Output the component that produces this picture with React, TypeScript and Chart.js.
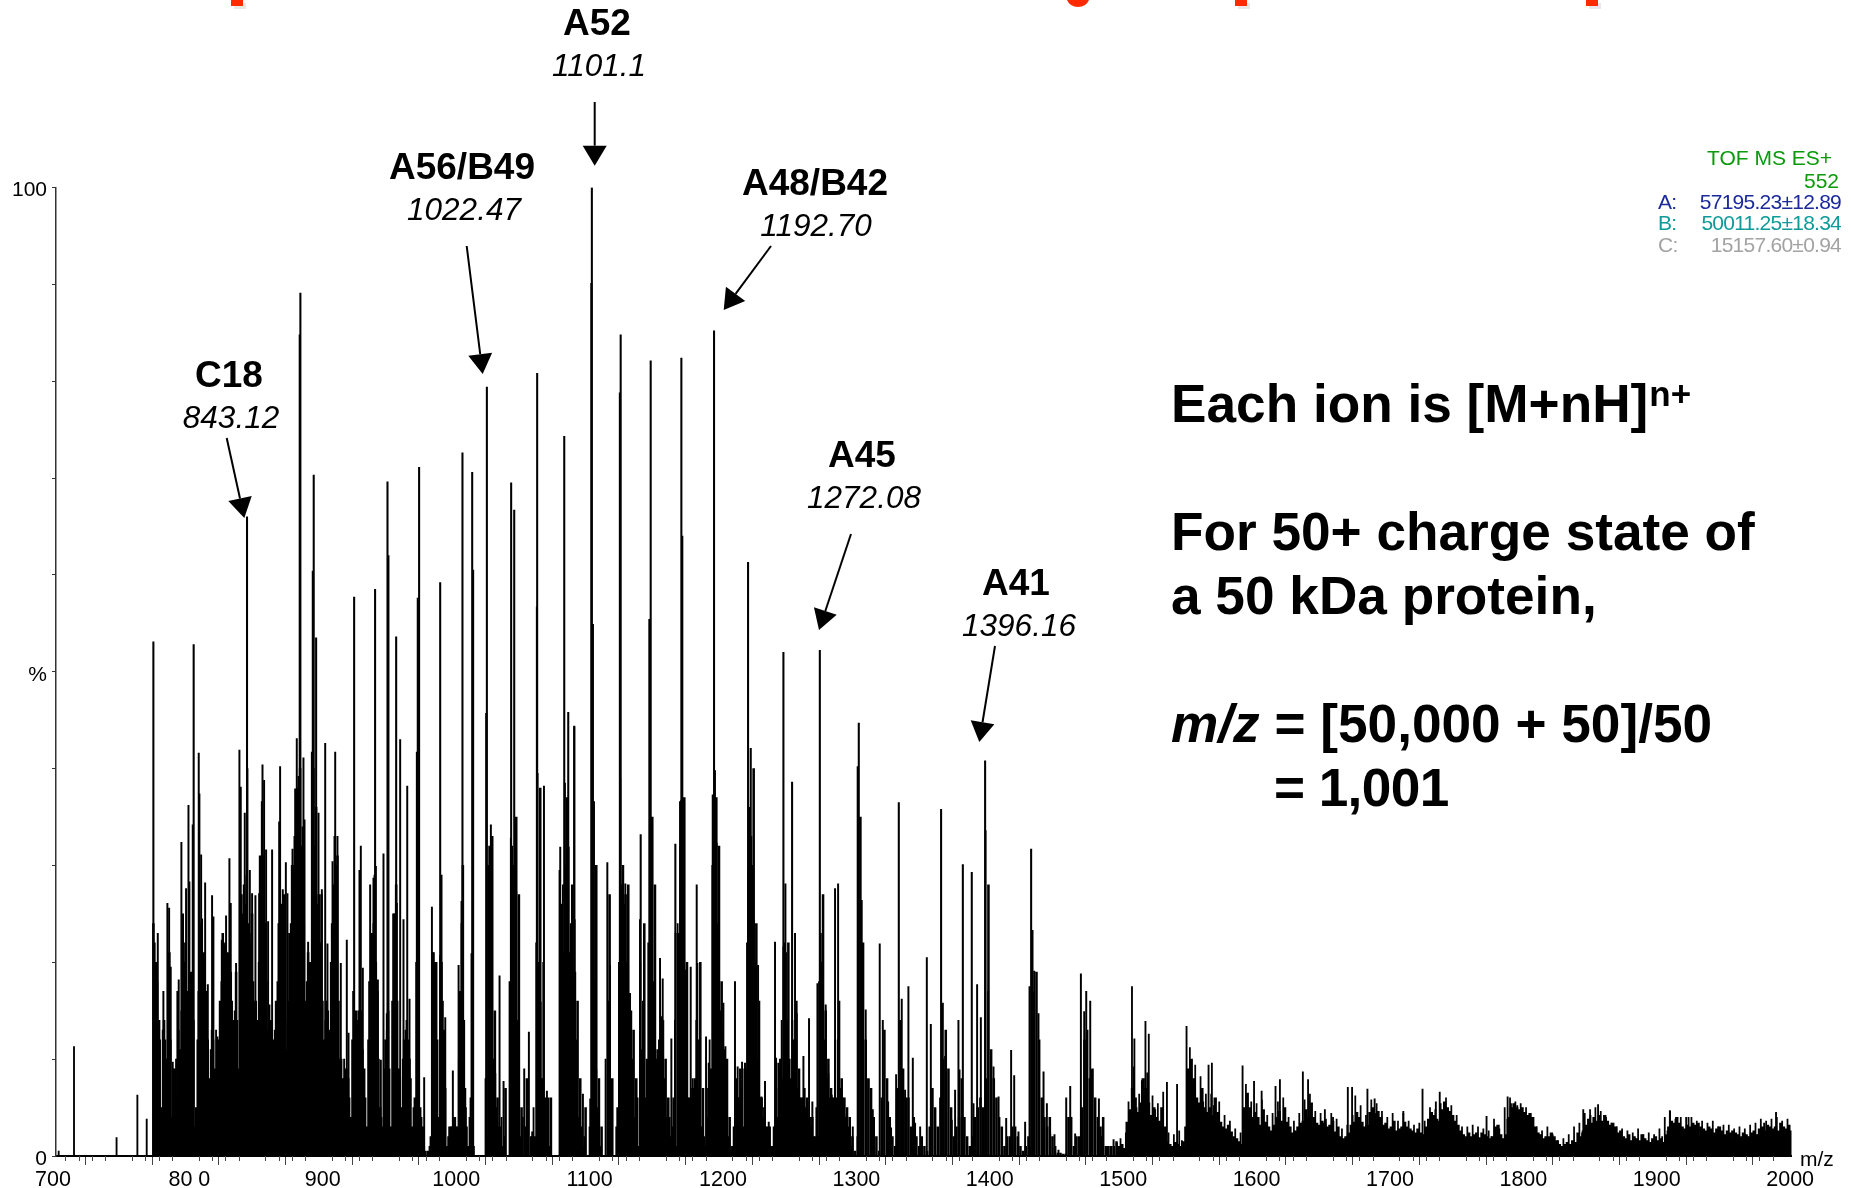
import { useEffect, useRef } from "react";
import { Chart, registerables } from "chart.js";

Chart.register(...registerables);

const xTickLabels: Record<number, string> = {
  700: "700 ", 800: "80 0", 900: "900", 1000: "1000", 1100: "1100", 1200: "1200", 1300: "1300",
  1400: "1400", 1500: "1500", 1600: "1600", 1700: "1700", 1800: "1800", 1900: "1900", 2000: "2000",
};
const yTickLabels: Record<number, string> = { 0: "0", 50: "%", 100: "100" };

// tallest charge-state peaks
const mainMz = [776, 806.2, 846.2, 886.2, 885.7, 896.2, 898, 895.5, 926.5, 942.2, 951.5, 952.2, 958, 975.2, 974.2, 991, 1007.7, 1015, 1015.7, 1026, 1025.5, 1044.2, 1046.5, 1063.7, 1063.5, 1084, 1087, 1091.5, 1104.7, 1104.3, 1105.5, 1126.3, 1125.7, 1148.8, 1147.8, 1171.8, 1172.5, 1196.3, 1221.8, 1248.3, 1275.6, 1304.8, 1304, 1399.5, 1399.8, 1334.8, 1366.5, 1382.8, 1389.5, 1434, 1435, 1223.8, 1254.8, 1141.3, 1167.3];
const mainI = [53.1, 52.8, 66, 89.1, 84.8, 70.3, 53.5, 60.4, 57.7, 58.5, 69.6, 62, 53.6, 71.1, 57.6, 59.2, 72.6, 70.6, 60.5, 79.4, 45.7, 69.5, 66.7, 80.8, 56.7, 74.3, 45.8, 44.4, 100, 90.1, 54.9, 84.8, 78.8, 82.1, 55.4, 82.4, 64, 85.2, 61.3, 52, 52.2, 44.7, 40.2, 40.8, 33.6, 36.5, 35.8, 30.1, 29.3, 31.7, 23.3, 42.1, 38.6, 33.2, 32.2];

// isolated peaks below the start of the envelope
const earlyMz = [705, 716.5, 748.4, 764, 771];
const earlyI = [0.5, 11.3, 1.9, 6.3, 3.8];

// thin spikes, 775-1130
const leftMz = [779.3, 778, 780.5, 783.5, 786.5, 787.8, 789, 790.5, 795, 794, 797, 800.5, 802.3, 803, 805.5, 810, 810.5, 811.8, 812.5, 814.8, 816.8, 820, 821, 824, 827.3, 829.3, 830.5, 833, 834, 838, 840.5, 841.5, 844.5, 846.5, 848.3, 850, 852.5, 855.3, 857.8, 857.3, 859, 860.5, 862, 865, 863, 871, 870.3, 873, 875.3, 876.5, 880.3, 882.3, 883.5, 884.8, 888.5, 889.3, 892, 894.8, 899.8, 902.3, 904.8, 906.5, 910.3, 912.3, 914, 916.5, 921, 922.3, 930.5, 931.5, 933, 938.5, 941, 942.8, 944.3, 946.5, 948.5, 951, 956.5, 958.5, 961, 963.5, 966.3, 968, 973.5, 979, 984.8, 985.5, 987, 991, 992, 994.8, 1000.5, 1004.8, 1007, 1009.8, 1014.5, 1029, 1028, 1032.3, 1035.5, 1038.5, 1044, 1044.8, 1048, 1054, 1057.5, 1060, 1064, 1066.3, 1068.8, 1068.3, 1071, 1081, 1080.5, 1084.5, 1087.3, 1091.5, 1091.8, 1093.5, 1098, 1103.5, 1106.3, 1108, 1109.8, 1116.3, 1118.3, 1119, 1126, 1128, 1132.5];
const leftI = [23, 19.9, 14, 17, 26.1, 25.6, 19.5, 9.7, 18.2, 17, 32.4, 27.6, 36.2, 28.3, 34.2, 41.6, 37.4, 31.1, 24.5, 28.2, 17.7, 26.9, 24.7, 12.3, 22.3, 21.8, 24.8, 30.7, 26.1, 19.9, 41.9, 38.1, 35.4, 40, 29.5, 27.1, 26.9, 27.1, 40.4, 36.6, 38.8, 31.6, 24.2, 31.6, 15.6, 40.2, 34.5, 27.5, 30.3, 27.1, 31.7, 37.9, 43.1, 39.2, 41.1, 34.7, 22.1, 41.7, 35.4, 27.5, 42.6, 21.9, 30.4, 41.7, 33, 19.9, 22.3, 12.7, 29.5, 32, 19.4, 28, 28.7, 29.9, 18.2, 9.9, 31.2, 14.7, 25, 26.1, 43, 24.4, 38.2, 16.2, 41.7, 8.1, 25.7, 21, 19.7, 20.7, 29, 14.3, 8.8, 19.7, 26.3, 7, 20.9, 34.2, 16.1, 8.5, 18.6, 7.7, 32.8, 29.9, 27.3, 9, 12.8, 2.5, 39.5, 15.9, 38.2, 20, 6.7, 31.9, 29.5, 38.5, 31.9, 44.3, 24.4, 8.4, 6.4, 5.9, 36.6, 8.9, 3.5, 30.3, 19.7, 3.2, 39, 27.5, 13.4];

// thin spikes, 1125-1500
const midMz = [1127.8, 1129.8, 1133.3, 1132.3, 1140.8, 1143.3, 1148.8, 1149.8, 1150.8, 1155.8, 1157.8, 1156.8, 1155.3, 1164.3, 1167.5, 1170.8, 1171.5, 1172.8, 1175, 1178.8, 1180.3, 1183.3, 1183.8, 1185.8, 1190.3, 1192.3, 1195.3, 1197, 1198.3, 1199.8, 1203.3, 1202.8, 1204.8, 1212, 1214, 1217.3, 1219.5, 1222, 1222.8, 1226.3, 1229.3, 1231.8, 1234.5, 1237.3, 1242, 1242.8, 1244.5, 1248.3, 1249.8, 1252.3, 1257, 1258.3, 1263.3, 1267.5, 1270, 1273.8, 1276.3, 1280, 1282, 1284.5, 1287, 1289.3, 1292.8, 1295.8, 1300.3, 1307, 1310, 1312, 1315.3, 1320.5, 1322.8, 1326.8, 1329, 1332.8, 1337, 1339.5, 1342, 1345.3, 1347, 1350.8, 1355.8, 1358.8, 1362, 1367.8, 1369.5, 1374.5, 1379.5, 1380.3, 1377, 1390.8, 1393.5, 1396.3, 1401.8, 1405.8, 1409.6, 1415.3, 1419, 1421.3, 1424.5, 1429.5, 1432.8, 1436.3, 1439.5, 1443.3, 1445.8, 1448.3, 1451.5, 1454.5, 1460.3, 1463.3, 1467, 1471.3, 1473.8, 1475.3, 1478.3, 1479.5, 1484.8, 1487, 1491.3, 1495.8, 1498.3];
const midI = [27.6, 28.1, 16.8, 15.8, 24.4, 12.7, 34.9, 28.5, 12, 20.4, 18.3, 14.4, 8.2, 12.1, 23, 36.6, 36.7, 28.1, 19.2, 19.5, 8, 28, 19.9, 7.5, 12.3, 9.6, 37.3, 39.8, 32.3, 18.3, 15.8, 12.8, 11.3, 18, 9.2, 9.7, 9.6, 29.5, 22.6, 24.3, 19.7, 6.1, 7.7, 3.5, 22.1, 10.1, 9.6, 21.6, 28.1, 9, 23, 14.7, 10.3, 14.2, 5.6, 17.8, 23, 15.6, 8.5, 6.3, 27.6, 28.1, 6, 4.4, 3, 26.4, 15.1, 7.9, 4.8, 21.9, 14, 5.6, 2.9, 8.4, 16.2, 6.8, 17.5, 10.1, 3.4, 3, 20.5, 13.6, 4.8, 15.8, 10.3, 3.7, 14, 8.9, 6.8, 5.4, 17.7, 14.3, 17, 9.2, 6.1, 3.9, 10.9, 8.3, 2.5, 3.5, 17.5, 19.1, 14.7, 8.7, 5.4, 2.3, 2.2, 0.6, 6, 7.2, 2.3, 18.8, 14.9, 17, 16, 8.9, 5.9, 2, 1, 1.7, 1.3];

// thin spikes above the tail, 1500-2000
const tailSpikeMz = [1509.6, 1511.4, 1519.7, 1522.2, 1535.8, 1543.4, 1550.5, 1553.8, 1567, 1569.5, 1592.5, 1601.1, 1606.8, 1617.2, 1620.5, 1637.7, 1641.6, 1654.2, 1660.3, 1671.4, 1674.6, 1686.1, 1691.5, 1713, 1727.4, 1740.3, 1737.4, 1775.4, 1791.2, 1793.7, 1798.4, 1847.9, 1859, 1853.3, 1912.8, 1926.8, 1992.4, 1983.5];
const tailSpikeI = [17.5, 12.1, 13.9, 12.6, 7.6, 7.4, 13.4, 9.9, 9.4, 9.6, 9.3, 7.7, 6.7, 7.2, 7.9, 8.7, 7.9, 4.8, 4, 7.1, 7.1, 6.9, 5.9, 4.6, 6.9, 6.6, 5.6, 4.1, 6.1, 5.4, 5.2, 4.8, 5.3, 4.2, 4.7, 4, 4.5, 3.4];

// dense envelope, one reading every 2 m/z from 776
const envelopeStart = 776;
const envelopeI = [24, 20, 14, 5, 14, 10, 21, 4, 9, 6, 11, 25, 22, 17, 19, 14, 5, 17, 24, 21, 17, 8, 13, 9, 8, 16, 23, 22, 21, 19, 14, 19, 9, 27, 28, 29, 23, 25, 16, 14, 31, 31, 24, 13, 14, 12, 16, 24, 26, 27, 11, 23, 30, 33, 38, 40, 34, 16, 21, 20, 40, 36, 27, 27, 12, 16, 13, 24, 33, 31, 10, 8, 9, 8, 4, 17, 15, 15, 15, 9, 3, 18, 23, 29, 17, 5, 3, 12, 15, 3, 25, 28, 9, 5, 12, 14, 10, 3, 6, 36, 5, 3, 0.5, 0.5, 2, 21, 20, 4, 20, 13, 1, 3, 3, 4, 3, 17, 30, 5, 1, 6, 1, 0, 0, 0, 0, 2, 32, 33, 15, 6, 3, 1, 7, 0, 0, 30, 35, 27, 5, 0, 8, 0, 2, 2, 7, 38, 8, 6, 6, 6, 0, 0, 0, 26, 21, 37, 21, 28, 19, 16, 8, 1, 5, 0, 0, 5, 30, 8, 3, 0, 0, 27, 8, 0, 5, 28,
  30, 27, 28, 15, 13, 8, 1, 11, 24, 10, 3, 35, 28, 11, 8, 14, 10, 6, 2, 6, 1, 23, 25, 37, 20, 6, 6, 8, 7, 20, 7, 1, 4, 9, 16, 37, 32, 18, 11, 10, 4, 1, 0, 6, 9, 3, 9, 9, 33, 40, 24, 16, 6, 5, 3, 3, 1, 2, 4, 10, 8, 21, 22, 8, 12, 16, 9, 6, 7, 6, 4, 4, 2, 2, 8, 27, 15, 10, 7, 6, 6, 16, 8, 6, 5, 4, 2, 0.5, 2, 35, 22, 12, 8, 7, 4, 2, 0.5, 6, 13, 8, 4, 2, 1, 7, 14, 9, 6, 6, 3, 4, 2, 1, 2, 1, 0.5, 3, 7, 5, 3, 6, 10, 13, 9, 5, 2, 3, 4, 8, 4, 2, 1, 2, 4, 5, 6, 5, 8, 28, 11, 8, 6, 4, 3, 1, 2, 2, 3, 3, 2, 1, 0.5, 1, 2, 1, 17, 19, 12, 6, 4, 3, 4, 2, 1, 0.3, 0.3, 0.2, 0.2, 4, 4, 1, 2, 2, 5, 12, 13, 8, 9, 6, 4, 3, 4, 1, 1, 1, 1, 1.5, 1];

// the readings between those of the envelope, one every 2 m/z from 777
const innerStart = 777;
const innerI = [22, 18, 12, 13, 12, 16, 12, 9, 10, 13, 15, 20,
  12, 10, 4, 3, 12, 18, 20, 14, 12, 11, 12, 13, 12, 18, 17, 16, 14, 16, 15, 14, 18, 25, 26, 24, 22, 18, 16, 20, 24,
  22, 18, 13, 14, 13, 18, 22, 22, 14, 16, 24, 30, 32, 36, 32, 24, 18, 20, 34, 32, 26,
  22, 16, 14, 15, 20, 28, 30, 16, 10, 10, 9, 6, 12, 14, 14, 14, 11, 6, 12, 20, 24, 20, 10, 4, 9, 13, 9, 16, 24, 16, 8, 10, 13, 12, 8, 5, 20, 14, 4, 1, 0, 1, 12, 20, 12, 14, 16, 7, 2, 3,
  4, 3, 10, 24, 14, 3, 4, 3, 0, 0, 0, 0, 8, 30, 22, 10, 5, 3, 4, 2, 0, 18, 32, 30, 14, 2, 4, 3, 1, 2, 5, 22, 20, 8, 6, 5, 1, 0, 0, 0, 22, 28, 30, 24, 24, 18, 12, 4, 3, 2, 0, 3, 22, 18, 5, 1, 0, 10, 16, 3, 0, 3, 20,
  28, 26, 20, 14, 10, 4, 6, 20, 16, 6, 22, 32, 18, 10, 12, 12, 8, 4, 4, 3, 14, 24, 32, 28, 12, 6, 7, 7, 14, 12, 3, 2, 7, 12, 30, 36, 24, 15, 10, 7, 2, 0.5, 3, 8, 6, 7, 9, 22, 36, 30, 20, 10, 6, 4, 3, 2, 1, 3, 7, 9, 14, 22, 14, 10, 14, 12, 7, 6, 6, 5, 4, 3, 2, 5, 18, 20, 12, 8, 6, 6, 12, 12, 7, 5, 4, 3, 1];

// baseline mass of the tail, one reading every 2 m/z from 1500
const tailStart = 1500;
const tailI = [1, 1.2, 0.8, 3.5, 4.8, 7, 6, 4.5, 5.5, 8, 7, 5.5, 4.2, 5, 4, 3.6, 5, 3, 1.5, 1.2, 1, 1.4, 1.2, 1, 1.5, 3, 9, 10, 8, 6, 5.5, 7, 5, 4.5, 5, 4.2, 6, 4.5, 3.5, 3, 2.8, 3.2, 2.5, 2, 1.8, 1.5, 1.2, 5, 6.5, 5, 4, 4.5, 4, 3.2, 4.8, 3.5, 3, 2.6, 3.2, 4, 4.6, 3.6, 5, 3.5, 3, 2.4, 2.6, 3, 3.4, 3.6, 4.8, 4, 5.5, 4, 3.4, 3.2, 3.6, 3.4, 3, 3.2, 3.6, 2.5, 3, 2, 1.8, 2, 2.4, 3.2, 3.5, 4.5, 4, 3.5, 3, 3.2, 4.5, 5, 4.4, 4.6, 4, 3.2, 3.4, 2.8, 3, 3.6, 2.6, 2.8, 3, 3.5, 3, 2.8, 2.6, 2.4, 2.8, 2.4, 2.2, 3, 3.8, 4.5, 4.2, 3.8, 3.6, 4.8, 5.6, 5, 4.6, 4.2, 3.6, 3.2, 2.6, 2.2, 2, 2.4, 2, 2.2, 2.4, 1.9, 2.4, 2.2, 2, 1.8, 2, 3, 3.2, 2.2, 1.8, 2.2, 4, 5, 5.4, 5, 4.8, 5, 4.5, 4.2, 4.4, 4, 3, 2.4, 2.2, 1.8, 2, 2, 2.4, 2, 1.6, 1.2, 1, 1.2, 1.4, 1.2, 1.6, 1.4, 2.4, 2, 2.6, 3.2, 3.8, 3.4, 4, 3.6, 4.2, 3.6, 4.2, 3.6, 3.2, 3.4, 3, 2.4, 2.6, 2, 1.8, 2.2, 1.6, 2, 1.8, 1.6, 2.2, 1.8, 1.6, 1.4, 1.8, 2, 1.6, 1.8, 1.4, 2.2, 3, 3.6, 3.4, 4, 3.4, 3, 2.8, 3.2, 3, 3.4, 3.2, 3.4, 3, 2.8, 2.6, 3, 2.8, 2.4, 2.8, 3, 2.6, 2.2, 2.6, 2.4, 2.6, 2.4, 2.2, 2, 2.4, 2.2, 2, 2.4, 2.6, 2.2, 2.8, 3, 2.6, 3.2, 3, 2.8, 3, 2.6, 3.4, 3, 2.8, 3.2, 2.6, 3, 2.8];

// jagged top of the tail, one thin reading every 2 m/z from 1501
const fringeStart = 1501;
const fringeI = [1.8, 0.6, 2.4, 5.6, 3.8, 9.2, 5, 6.4, 7.8, 6.2, 8.6, 3.4, 6.2, 4.8, 5.4, 3, 6.6, 1.6, 2.4, 0.8, 2.2, 0.7, 2.6, 1.6, 0.9, 6, 11.2, 7.4, 9.4, 4.4, 8.2, 5.6, 6.4, 3.6, 6.4, 5.2, 3.6, 5.6, 2.4, 4.2, 2, 3.6, 1.4, 2.8, 0.9, 2.4, 3.8, 7.4, 3.8, 5.6, 3.2, 5.4, 2.4, 5.8, 2.6, 4.2, 1.8, 4.4, 3, 5.6, 2.8, 6, 2.6, 4, 1.6, 3.6, 2.2, 4.4, 2.8, 5.8, 3.2, 6.4, 3, 4.6, 2.4, 4.4, 2.6, 3.8, 2.4, 4.4, 1.8, 3.8, 1.2, 2.8, 1.2, 3.2, 1.8, 4.2, 6.2, 3.4, 5.2, 2.4, 4.2, 2.6, 5.8, 3.6, 5.4, 3.2, 4.6, 2.4, 4, 2.2, 4.4, 1.8, 3.6, 2.4, 4.4, 2.2, 3.6, 1.8, 3.2, 2, 3.4, 1.6, 3.6, 2.2, 5, 3.4, 4.8, 3, 5.4, 4.4, 6, 3.8, 5.2, 3, 4.2, 2, 3, 1.4, 3, 1.6, 3.2, 1.6, 3, 1.6, 2.8, 1.4, 2.6, 2, 3.8, 1.6, 2.8, 1.8, 5, 3.8, 6, 4.2, 5.6, 3.8, 5.4, 3.4, 5, 3, 3.8, 1.8, 3, 1.4, 2.6, 1.4, 3, 1.4, 2.2, 0.8, 1.6, 0.9, 1.8, 0.8, 2.2, 1, 3, 1.4, 3.4, 2.4, 4.4, 2.8, 4.8, 2.8, 5, 2.8, 4.6, 2.8, 4, 2.4, 3.4, 1.8, 3, 1.4, 2.8, 1.2, 2.6, 1.4, 2.4, 1.2, 2.8, 1.2, 2.2, 1, 2.4, 1.4, 2.2, 1.2, 2.8, 2, 4, 2.6, 4.6, 2.6, 3.8, 2.2, 4, 2.4, 4, 2.6, 4, 2.4, 3.6, 2, 3.6, 2.2, 3.4, 2, 3.6, 2, 3, 1.8, 3.2, 1.8, 3.2, 1.8, 2.8, 1.6, 3, 1.6, 2.8, 2, 3.2, 1.8, 3.4, 2.2, 3.8, 2.4, 3.6, 2.2, 3.8, 2.2, 4, 2.4, 3.6, 2.4, 3.8];

const peakNames = ["A52", "A56/B49", "A48/B42", "C18", "A45", "A41"];
const peakMasses = ["1101.1", "1022.47", "1192.70", "843.12", "1272.08", "1396.16"];

const legendTitle = ["TOF MS ES+", "552"];
const componentNames = ["A:", "B:", "C:"];
const componentMasses = ["57195.23±12.89", "50011.25±18.34", "15157.60±0.94"];

const explainLines = ["For 50+ charge state of", "a 50 kDa protein,"];

const zip = (xs: number[], ys: number[]) => xs.map((x, i) => ({ x, y: ys[i] }));
const stepped = (start: number, ys: number[]) => ys.map((y, i) => ({ x: start + i * 2, y }));

const FONT = '"Liberation Sans", Arial, sans-serif';

const annotationLayout = [
  { cx: 597, by: 35, mx: 599, my: 76, from: [594.7, 102], to: [594.7, 165.7] },
  { cx: 462, by: 179, mx: 464, my: 220, from: [466.7, 246], to: [482.7, 374] },
  { cx: 815, by: 195, mx: 816, my: 236, from: [771, 246], to: [723.7, 310] },
  { cx: 229, by: 387, mx: 231, my: 428, from: [226.7, 438], to: [244.3, 518] },
  { cx: 862, by: 467, mx: 864, my: 508, from: [851, 534], to: [819, 630] },
  { cx: 1016, by: 595, mx: 1019, my: 636, from: [995, 646], to: [979.3, 742] },
];

const overlay = {
  id: "overlay",
  afterDraw(chart: any) {
    const ctx: CanvasRenderingContext2D = chart.ctx;
    const x = chart.scales.x;
    const base = chart.scales.y.getPixelForValue(0);
    ctx.save();

    // minor x ticks
    ctx.strokeStyle = "#444";
    ctx.lineWidth = 1;
    for (let v = 700; v <= 2000; v += 10) {
      if (v % 50 === 0) continue;
      const px = Math.round(x.getPixelForValue(v)) + 0.5;
      ctx.beginPath();
      ctx.moveTo(px, base);
      ctx.lineTo(px, base + 5);
      ctx.stroke();
    }

    // remains of the cropped slide title
    ctx.fillStyle = "#e8e8e8";
    [[234, 3, 12, 6], [1238, 3, 12, 6], [1589, 3, 12, 6]].forEach(([a, b, c, d]) => ctx.fillRect(a, b, c, d));
    ctx.fillStyle = "#ff2a00";
    [[231, 0, 12, 6], [1235, 0, 12, 6], [1586, 0, 12, 6]].forEach(([a, b, c, d]) => ctx.fillRect(a, b, c, d));
    ctx.beginPath();
    ctx.moveTo(1067, 0);
    ctx.quadraticCurveTo(1070, 7, 1078, 7);
    ctx.quadraticCurveTo(1086, 7, 1089, 0);
    ctx.closePath();
    ctx.fill();

    // peak labels and arrows
    ctx.textAlign = "center";
    ctx.textBaseline = "alphabetic";
    ctx.fillStyle = "#000";
    annotationLayout.forEach((a, i) => {
      ctx.font = `bold 37px ${FONT}`;
      ctx.fillText(peakNames[i], a.cx, a.by);
      ctx.font = `italic 31.5px ${FONT}`;
      ctx.fillText(peakMasses[i], a.mx, a.my);
      const [x0, y0] = a.from;
      const [x1, y1] = a.to;
      const ang = Math.atan2(y1 - y0, x1 - x0);
      const len = 20;
      const half = 12;
      const bx = x1 - Math.cos(ang) * len;
      const by = y1 - Math.sin(ang) * len;
      ctx.strokeStyle = "#000";
      ctx.lineWidth = 2;
      ctx.beginPath();
      ctx.moveTo(x0, y0);
      ctx.lineTo(bx, by);
      ctx.stroke();
      ctx.beginPath();
      ctx.moveTo(x1, y1);
      ctx.lineTo(bx - Math.sin(ang) * half, by + Math.cos(ang) * half);
      ctx.lineTo(bx + Math.sin(ang) * half, by - Math.cos(ang) * half);
      ctx.closePath();
      ctx.fill();
    });

    // m/z axis title
    ctx.textAlign = "left";
    ctx.font = `21px ${FONT}`;
    ctx.fillText("m/z", 1800, 1166);

    // instrument legend
    ctx.textAlign = "right";
    ctx.font = `21px ${FONT}`;
    ctx.fillStyle = "#0a9a0a";
    ctx.fillText(legendTitle[0], 1832, 165);
    ctx.fillText(legendTitle[1], 1839, 188);
    const legendColors = ["#1a2a9c", "#0f9a9a", "#a3a3a3"];
    const legendBase = [209, 230, 252];
    (ctx as any).letterSpacing = "-0.75px";
    componentNames.forEach((n, i) => {
      ctx.fillStyle = legendColors[i];
      ctx.textAlign = "left";
      ctx.fillText(n, 1658, legendBase[i]);
      ctx.textAlign = "right";
      ctx.fillText(componentMasses[i], 1841, legendBase[i]);
    });
    (ctx as any).letterSpacing = "0px";

    // explanation text
    ctx.fillStyle = "#000";
    ctx.textAlign = "left";
    ctx.font = `bold 53.2px ${FONT}`;
    ctx.fillText("Each ion is [M+nH]", 1171, 422);
    const w = ctx.measureText("Each ion is [M+nH]").width;
    ctx.font = `bold 35px ${FONT}`;
    ctx.fillText("n+", 1171 + w + 1, 406);
    ctx.font = `bold 53.2px ${FONT}`;
    ctx.fillText(explainLines[0], 1171, 550);
    ctx.fillText(explainLines[1], 1171, 614);
    ctx.font = `italic bold 53.2px ${FONT}`;
    ctx.fillText("m/z", 1171, 742);
    const mw = ctx.measureText("m/z").width;
    ctx.font = `bold 53.2px ${FONT}`;
    ctx.fillText(" = [50,000 + 50]/50", 1171 + mw, 742);
    (ctx as any).letterSpacing = "-0.6px";
    ctx.fillText("= 1,001", 1274, 806);
    (ctx as any).letterSpacing = "0px";
    ctx.restore();
  },
};

const stick = (data: { x: number; y: number }[], thickness: number) => ({
  data,
  backgroundColor: "#000",
  borderWidth: 0,
  barThickness: thickness,
  grouped: false,
});

export default function App() {
  const ref = useRef<HTMLCanvasElement>(null);
  useEffect(() => {
    document.body.style.margin = "0";
    const chart = new Chart(ref.current!, {
      type: "bar",
      data: {
        datasets: [
          stick(stepped(envelopeStart, envelopeI), 1.9),
          stick(stepped(innerStart, innerI), 1.2),
          stick(stepped(tailStart, tailI), 2.7),
          stick(stepped(fringeStart, fringeI), 1.1),
          stick(zip(earlyMz, earlyI), 1.2),
          stick(zip(leftMz, leftI), 1.3),
          stick(zip(midMz, midI), 1.3),
          stick(zip(tailSpikeMz, tailSpikeI), 1.2),
          stick(zip(mainMz, mainI), 1.4),
        ] as any,
      },
      plugins: [overlay],
      options: {
        animation: false,
        responsive: false,
        devicePixelRatio: 1,
        layout: { padding: { left: 0, right: 59.5, top: 187.5, bottom: 0 } },
        plugins: { legend: { display: false }, tooltip: { enabled: false }, title: { display: false } },
        scales: {
          x: {
            type: "linear",
            position: "bottom",
            min: 703,
            max: 2004,
            offset: false,
            afterFit: (s: any) => {
              s.height = 32;
            },
            afterBuildTicks: (s: any) => {
              const ticks = [];
              for (let v = 700; v <= 2000; v += 50) ticks.push({ value: v });
              s.ticks = ticks;
            },
            grid: { drawOnChartArea: false, drawTicks: true, tickLength: 9, tickColor: "#444", tickWidth: 1 },
            border: { display: true, color: "#000", width: 2 },
            ticks: {
              autoSkip: false,
              maxRotation: 0,
              padding: 2,
              labelOffset: 4,
              color: "#000",
              font: { family: FONT, size: 21.5 },
              callback: (v: any) => xTickLabels[v] ?? "",
            },
          },
          y: {
            type: "linear",
            position: "left",
            min: 0,
            max: 100,
            afterFit: (s: any) => {
              s.width = 56;
            },
            grid: { drawOnChartArea: false, drawTicks: true, tickLength: 4, tickColor: "#333", tickWidth: 1 },
            border: { display: true, color: "#333", width: 1.5 },
            ticks: {
              stepSize: 10,
              autoSkip: false,
              padding: 5,
              labelOffset: 3,
              color: "#000",
              font: { family: FONT, size: 21 },
              callback: (v: any) => yTickLabels[v] ?? "",
            },
          },
        },
      },
    } as any);
    return () => chart.destroy();
  }, []);
  return (
    <div style={{ position: "absolute", left: 0, top: 0, width: 1851, height: 1188, background: "#fff" }}>
      <canvas ref={ref} width={1851} height={1188} style={{ display: "block" }} />
    </div>
  );
}
